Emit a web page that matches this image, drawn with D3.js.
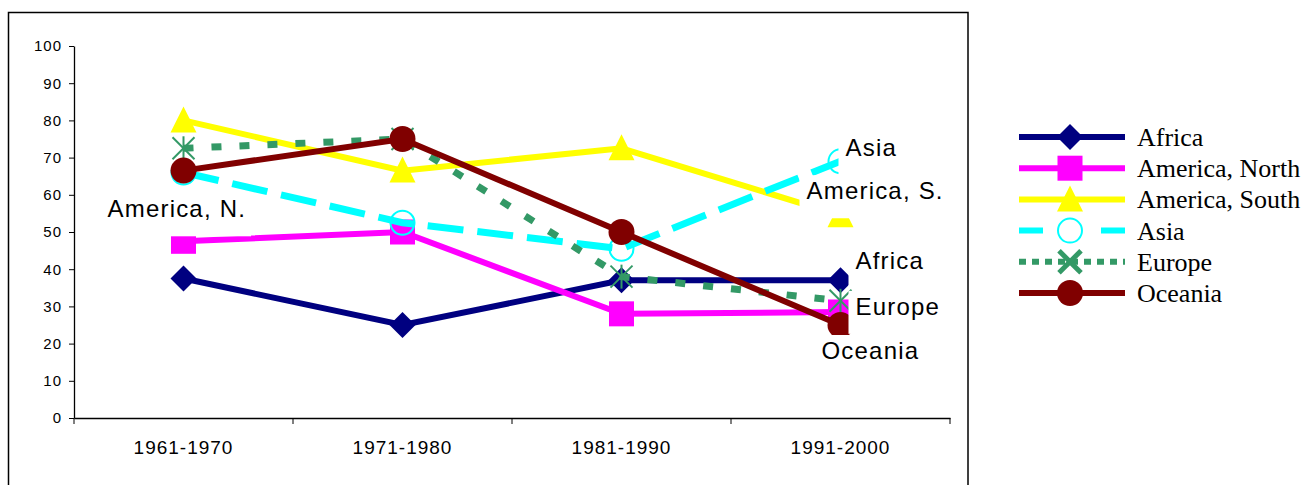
<!DOCTYPE html>
<html>
<head>
<meta charset="utf-8">
<script src="https://cdn.jsdelivr.net/npm/d3@7"></script>
<style>
  body { margin: 0; background: #fff; }
  svg { display: block; }
</style>
</head>
<body>
<div id="chart"></div>
<script>
// data
var categories = ["1961-1970", "1971-1980", "1981-1990", "1991-2000"];
var yTicks = [0, 10, 20, 30, 40, 50, 60, 70, 80, 90, 100];
var seriesNames = ["Africa", "America, North", "America, South", "Asia", "Europe", "Oceania"];
var africa = [37.5, 25, 37, 37];
var americaNorth = [47.5, 50, 28, 28.5];
var americaSouth = [80, 66.5, 72.5, 54.5];
var asia = [66, 52.5, 45.5, 69];
var europe = [72.5, 75, 38, 31.5];
var oceania = [66.5, 75, 50, 25];
var pointLabels = ["Africa", "America, N.", "America, S.", "Asia", "Europe", "Oceania"];

var seriesValues = [africa, americaNorth, americaSouth, asia, europe, oceania];

// look of each series
var styles = [
	{color: "#000080", marker: "diamond", width: 6, dash: null, legendDash: null},
	{color: "#FF00FF", marker: "square", width: 6, dash: null, legendDash: null},
	{color: "#FFFF00", marker: "triangle", width: 6, dash: null, legendDash: null},
	{color: "#00FFFF", marker: "ocircle", width: 7, dash: "36,14", legendDash: "24,58"},
	{color: "#339966", marker: "star", width: 7, dash: "10,18", legendDash: "7,6"},
	{color: "#800000", marker: "circle", width: 6, dash: null, legendDash: null}
];

// where each data label sits: point index, dx to text start, dy to baseline
var labelLayout = [
	{point: 3, dx: 15, dy: -11},
	{point: 0, dx: -76, dy: -24},
	{point: 3, dx: -34, dy: -16},
	{point: 3, dx: 5, dy: -5},
	{point: 3, dx: 15, dy: 14},
	{point: 3, dx: -19, dy: 34}
];

var W = 1307, H = 485;
var AXIS_FONT = "Arial, 'Liberation Sans', sans-serif";

var svg = d3.select("#chart").append("svg")
	.attr("width", W)
	.attr("height", H);

// chart frame
svg.append("rect")
	.attr("x", 8.5).attr("y", 12.5)
	.attr("width", 959.5).attr("height", 500)
	.attr("fill", "none")
	.attr("stroke", "#000")
	.attr("stroke-width", 1.5);

var x = d3.scaleBand()
	.domain(categories)
	.range([74, 950]);

var y = d3.scaleLinear()
	.domain([0, 100])
	.range([418, 46]);

function px(i) { return x(categories[i]) + x.bandwidth() / 2; }

// Y axis
var yAxis = svg.append("g")
	.attr("transform", "translate(74,0)")
	.call(d3.axisLeft(y)
		.tickValues(yTicks)
		.tickSize(5)
		.tickPadding(7)
		.tickSizeOuter(0));
yAxis.select(".domain").attr("stroke", "#000").attr("stroke-width", 1.3);
yAxis.selectAll(".tick line").attr("stroke", "#000");
yAxis.selectAll("text")
	.attr("font-family", AXIS_FONT)
	.style("font-size", "15px")
	.style("letter-spacing", "1px")
	.attr("fill", "#000");

// X axis, ticks sit on the band edges
var xAxis = svg.append("g")
	.attr("transform", "translate(0,418)")
	.call(d3.axisBottom(x)
		.tickSize(0)
		.tickPadding(23)
		.tickSizeOuter(0));
xAxis.select(".domain").attr("stroke", "#000").attr("stroke-width", 1.3);
xAxis.selectAll("text")
	.attr("font-family", AXIS_FONT)
	.style("font-size", "19px")
	.style("letter-spacing", "1px")
	.attr("fill", "#000");
var edges = categories.map(function(c) { return x(c); }).concat([x.range()[1]]);
svg.append("g")
	.selectAll("line")
	.data(edges)
	.enter()
	.append("line")
	.attr("x1", d => d).attr("x2", d => d)
	.attr("y1", 418).attr("y2", 424)
	.attr("stroke", "#000")
	.attr("stroke-width", 1);

// marker drawing
function drawMarker(g, type, color, cx, cy, legend) {
	if (type === "diamond") {
		g.append("path")
			.attr("d", "M" + cx + "," + (cy - 13) + "L" + (cx + 13) + "," + cy + "L" + cx + "," + (cy + 13) + "L" + (cx - 13) + "," + cy + "Z")
			.attr("fill", color);
	} else if (type === "square") {
		g.append("rect")
			.attr("x", cx - 12.5).attr("y", cy - 12.5)
			.attr("width", 25).attr("height", 25)
			.attr("fill", color);
	} else if (type === "triangle") {
		g.append("path")
			.attr("d", "M" + cx + "," + (cy - 14) + "L" + (cx + 13) + "," + (cy + 12) + "L" + (cx - 13) + "," + (cy + 12) + "Z")
			.attr("fill", color);
	} else if (type === "circle") {
		g.append("circle")
			.attr("cx", cx).attr("cy", cy).attr("r", 13)
			.attr("fill", color);
	} else if (type === "ocircle") {
		g.append("circle")
			.attr("cx", cx).attr("cy", cy).attr("r", 12)
			.attr("fill", "none")
			.attr("stroke", color)
			.attr("stroke-width", 2);
	} else if (type === "star") {
		var s = 11, sw = legend ? 5 : 2;
		var segs = legend
			? [[-s, -s, s, s], [-s, s, s, -s]]
			: [[-s, -s, s, s], [-s, s, s, -s], [0, -12, 0, 12]];
		segs.forEach(function(p) {
			g.append("line")
				.attr("x1", cx + p[0]).attr("y1", cy + p[1])
				.attr("x2", cx + p[2]).attr("y2", cy + p[3])
				.attr("stroke", color)
				.attr("stroke-width", sw);
		});
	}
}

var line = d3.line()
	.x((d, i) => px(i))
	.y(d => y(d));

// series, each line then its markers
seriesValues.forEach(function(vals, si) {
	var st = styles[si];
	var g = svg.append("g");
	g.append("path")
		.datum(vals)
		.attr("d", line)
		.attr("fill", "none")
		.attr("stroke", st.color)
		.attr("stroke-width", st.width)
		.attr("stroke-dasharray", st.dash);
	vals.forEach(function(v, i) {
		drawMarker(g, st.marker, st.color, px(i), y(v), false);
	});
});

// data labels with white boxes
var labelG = svg.append("g");
pointLabels.forEach(function(txt, si) {
	var lay = labelLayout[si];
	var cx = px(lay.point), cy = y(seriesValues[si][lay.point]);
	var lg = labelG.append("g");
	var bg = lg.append("rect").attr("fill", "#fff");
	var t = lg.append("text")
		.attr("x", cx + lay.dx)
		.attr("y", cy + lay.dy)
		.attr("font-family", AXIS_FONT)
		.style("font-size", "24px")
		.style("letter-spacing", "1.2px")
		.attr("fill", "#000")
		.text(txt);
	var bb = t.node().getBBox();
	bg.attr("x", bb.x - 7).attr("y", bb.y - 2)
		.attr("width", bb.width + 12).attr("height", bb.height + 16);
});

// legend
var legend = svg.append("g");
seriesNames.forEach(function(name, si) {
	var st = styles[si];
	var ly = 137 + si * 31.2;
	legend.append("line")
		.attr("x1", 1019).attr("x2", 1125)
		.attr("y1", ly).attr("y2", ly)
		.attr("stroke", st.color)
		.attr("stroke-width", 6)
		.attr("stroke-dasharray", st.legendDash);
	drawMarker(legend, st.marker, st.color, 1070, ly, true);
	legend.append("text")
		.attr("x", 1137)
		.attr("y", ly + 9)
		.attr("font-family", "'Times New Roman', 'Liberation Serif', serif")
		.style("font-size", "26px")
		.attr("fill", "#000")
		.text(name);
});
</script>
</body>
</html>
